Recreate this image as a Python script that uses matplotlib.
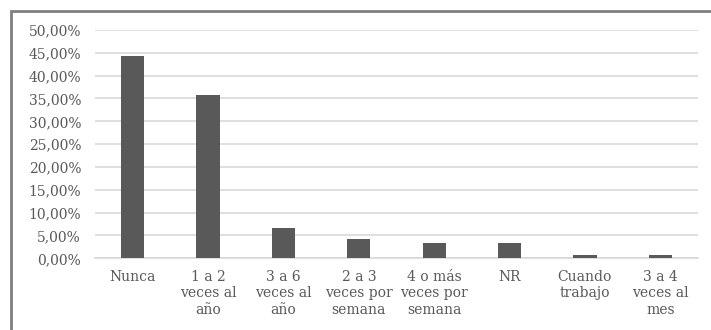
import matplotlib
matplotlib.use("Agg")
import matplotlib.pyplot as plt
from matplotlib.patches import Rectangle
from matplotlib.ticker import FuncFormatter

categories = ["Nunca", "1 a 2\nveces al\naño", "3 a 6\nveces al\naño", "2 a 3\nveces por\nsemana",
              "4 o más\nveces por\nsemana", "NR", "Cuando\ntrabajo", "3 a 4\nveces al\nmes"]
values = [0.442, 0.357, 0.067, 0.0415, 0.033, 0.033, 0.0065, 0.0065]
yticks = [0, 0.05, 0.10, 0.15, 0.20, 0.25, 0.30, 0.35, 0.40, 0.45, 0.50]

plt.rcParams['font.family'] = ['DejaVu Serif']
W, H = 711, 330
fig = plt.figure(figsize=(W/100, H/100), dpi=100)
ax = fig.add_axes([95/W, 1-258.3/H, (698-95)/W, (258.3-30)/H])

x = list(range(len(categories)))
ax.bar(x, values, width=0.31, color="#595959", zorder=3)
ax.set_xlim(-0.5, len(categories)-0.5)
ax.set_ylim(0, 0.5)
ax.set_yticks(yticks)
ax.yaxis.set_major_formatter(FuncFormatter(lambda v, p: f"{v*100:.2f}%".replace(".", ",")))
ax.set_xticks(x)
ax.set_xticklabels(categories, linespacing=1.2)
ax.tick_params(axis='both', length=0, labelsize=10, colors="#595959")
ax.tick_params(axis='y', pad=10)
ax.tick_params(axis='x', pad=8.5)
ax.grid(axis='y', color="#d9d9d9", linewidth=1.2, zorder=0)
for s in ["top", "right", "left"]:
    ax.spines[s].set_visible(False)
ax.spines["bottom"].set_color("#d9d9d9")
ax.spines["bottom"].set_linewidth(1.2)

fig.patches.append(Rectangle((11/W, -0.1), 1.2, 1.1 - 11/H, transform=fig.transFigure,
                             fill=False, edgecolor="#7f7f7f", linewidth=2, figure=fig))
fig.savefig("out.png", dpi=100)
